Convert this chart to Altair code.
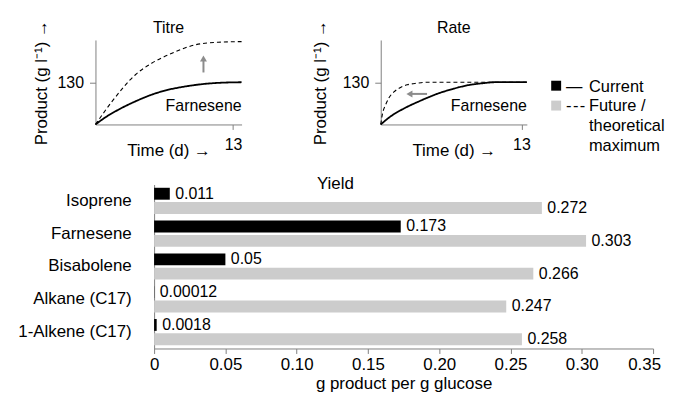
import altair as alt
import pandas as pd

FONT = "Liberation Sans"
FS = 16            # panel texts
FS_AT = 17         # panel axis titles
FS_BAR = 17        # bar chart category / tick labels / axis title
FS_VAL = 16        # bar value labels
FS_LEG = 16.5
AXIS_GREY = "#808080"
BAR_GREY = "#cccccc"
ARROW_GREY = "#8c8c8c"

series_names = ["Current", "Future"]

# ---- Titre panel (time in d, product in g/l) ----
titre_cur_t = [0, 0.94, 2.2, 3.77, 5.34, 6.9, 8.5, 10.05, 11.6, 13.8]
titre_cur_v = [0, 22, 46, 71, 92, 107, 117, 124, 128, 130]
titre_fut_t = [0, 1.57, 3.77, 5.34, 7.22, 9.42, 11.6, 13.8]
titre_fut_v = [0, 71, 153, 189, 219, 245, 253, 255]
titre_arrow_t = [10.2]
titre_arrow_from = [160]
titre_arrow_to = [200]
titre_arrow_head = [203]

# ---- Rate panel ----
rate_cur_t = [0, 0.92, 2.14, 3.67, 5.2, 6.73, 8.26, 9.48, 10.5, 13.5]
rate_cur_v = [0, 25, 49, 73, 94, 110, 122, 127, 130, 130]
rate_fut_t = [0, 0.15, 0.46, 0.76, 1.22, 1.83, 2.45, 3.36, 4.28, 13.5]
rate_fut_v = [0, 31, 61, 82, 100, 114, 122, 127, 130, 130]
rate_arrow_v = [94]
rate_arrow_from = [4.28]
rate_arrow_to = [2.8]
rate_arrow_head = [2.65]

panel_label = "Farnesene"
panel_label_v = 58

# ---- Yield bars ----
products = ["Isoprene", "Farnesene", "Bisabolene", "Alkane (C17)", "1-Alkene (C17)"]
current_yield = [0.011, 0.173, 0.05, 0.00012, 0.0018]
future_yield = [0.272, 0.303, 0.266, 0.247, 0.258]
current_labels = ["0.011", "0.173", "0.05", "0.00012", "0.0018"]
future_labels = ["0.272", "0.303", "0.266", "0.247", "0.258"]
yield_ticks = [0, 0.05, 0.10, 0.15, 0.20, 0.25, 0.30, 0.35]
yield_title_x = 0.1272

# ---- Legend ----
legend_glyphs = ["\u2014", "-\u200a-\u200a-"]
legend_labels = ["Current", "Future /\ntheoretical\nmaximum"]

# layout constants
SP_TOP = 23.3
SP_BOT = 9
G1 = 66
G2 = 20.5
VS = 17.4

axis_style = dict(
    domainColor=AXIS_GREY, tickColor=AXIS_GREY, labelColor="black", titleColor="black",
    labelFont=FONT, titleFont=FONT, titleFontWeight="normal", grid=False, labelFlush=False,
)

color_scale = alt.Scale(domain=series_names, range=["black", BAR_GREY])
dash_scale = alt.Scale(domain=series_names, range=[[1, 0], [4, 3]])
width_scale = alt.Scale(domain=series_names, range=[1.8, 1.1])
Y_DOMAIN = [0, 260]


def line_panel(cur_t, cur_v, fut_t, fut_v, xmax, title, ytitle_pad, arrow):
    df = pd.DataFrame({
        "t": cur_t + fut_t,
        "v": cur_v + fut_v,
        "series": ["Current"] * len(cur_t) + ["Future"] * len(fut_t),
    })
    xs = alt.Scale(domain=[0, xmax], nice=False, zero=False)
    ys = alt.Scale(domain=Y_DOMAIN, nice=False)
    lines = alt.Chart(df).mark_line(color="black", interpolate="monotone").encode(
        x=alt.X("t:Q", scale=xs, axis=alt.Axis(values=[13], title="Time (d) \u2192", tickSize=5,
                                               labelPadding=7, titlePadding=-10, labelFontSize=FS,
                                               titleFontSize=FS_AT, **axis_style)),
        y=alt.Y("v:Q", scale=ys, axis=alt.Axis(values=[130], title="Product (g l\u207b\u00b9) \u2192",
                                               tickSize=6, labelPadding=6, titlePadding=ytitle_pad,
                                               labelFontSize=FS, titleFontSize=FS_AT, **axis_style)),
        strokeDash=alt.StrokeDash("series:N", scale=dash_scale, legend=None),
        strokeWidth=alt.StrokeWidth("series:N", scale=width_scale, legend=None),
        detail="series:N",
    )
    one = pd.DataFrame({"k": [0]})
    lab = alt.Chart(one).mark_text(
        align="right", baseline="middle", font=FONT, fontSize=FS, color="black", text=panel_label
    ).encode(x=alt.datum(xmax, scale=xs), y=alt.datum(panel_label_v, scale=ys))
    ttl = alt.Chart(one).mark_text(
        align="center", baseline="alphabetic", dy=-6.7, font=FONT, fontSize=FS, color="black", text=title
    ).encode(x=alt.datum(xmax / 2), y=alt.datum(Y_DOMAIN[1]))
    layers = [lines, lab, ttl] + arrow(xs, ys)
    return alt.layer(*layers).properties(width=147, height=85)


def titre_arrow(xs, ys):
    d = pd.DataFrame({"t": titre_arrow_t, "v": titre_arrow_from, "v2": titre_arrow_to, "vh": titre_arrow_head})
    shaft = alt.Chart(d).mark_rule(color=ARROW_GREY, strokeWidth=2).encode(
        x=alt.X("t:Q"), y=alt.Y("v:Q"), y2="v2:Q")
    head = alt.Chart(d).mark_point(shape="triangle-up", filled=True, size=49, color=ARROW_GREY, opacity=1).encode(
        x=alt.X("t:Q"), y=alt.Y("vh:Q"))
    return [shaft, head]


def rate_arrow(xs, ys):
    d = pd.DataFrame({"t": rate_arrow_from, "t2": rate_arrow_to, "v": rate_arrow_v, "th": rate_arrow_head})
    shaft = alt.Chart(d).mark_rule(color=ARROW_GREY, strokeWidth=2).encode(
        x=alt.X("t:Q"), x2="t2:Q", y=alt.Y("v:Q"))
    head = alt.Chart(d).mark_point(shape="triangle-left", filled=True, size=49, color=ARROW_GREY, opacity=1).encode(
        x=alt.X("th:Q"), y=alt.Y("v:Q"))
    return [shaft, head]


titre = line_panel(titre_cur_t, titre_cur_v, titre_fut_t, titre_fut_v, 13.8, "Titre", 7, titre_arrow)
rate = line_panel(rate_cur_t, rate_cur_v, rate_fut_t, rate_fut_v, 13.5, "Rate", 13, rate_arrow)

# legend panel
legend_df = pd.DataFrame({"series": series_names, "glyph": legend_glyphs, "label": legend_labels})
ly = alt.Y("series:N", scale=alt.Scale(domain=series_names, range=[46, 66], padding=0), axis=None)
leg_sq = alt.Chart(legend_df).mark_square(size=100, opacity=1).encode(
    y=ly, color=alt.Color("series:N", scale=color_scale, legend=None))
leg_gl = alt.Chart(legend_df).mark_text(align="left", baseline="top", dx=10, dy=-7.1, font=FONT,
                                        fontSize=FS_LEG, color="black").encode(y=ly, text="glyph:N")
leg_lb = alt.Chart(legend_df).mark_text(align="left", baseline="top", dx=33, dy=-7.1, font=FONT,
                                        fontSize=FS_LEG, color="black", lineBreak="\n", lineHeight=20).encode(
    y=ly, text="label:N")
legend = alt.layer(leg_sq, leg_gl, leg_lb).properties(width=10, height=85)

# bar chart
bar_df = pd.DataFrame({
    "product": products * 2,
    "series": ["Current"] * len(products) + ["Future"] * len(products),
    "value": current_yield + future_yield,
    "label": current_labels + future_labels,
})
bx = alt.X("value:Q", scale=alt.Scale(domain=[0, 0.35], nice=False),
           axis=alt.Axis(values=yield_ticks, labelExpr="datum.value == 0 ? '0' : format(datum.value, '.2f')",
                         labelOffset={"condition": {"test": "datum.value > 0.34", "value": -9}, "value": 0},
                         title="g product per g glucose", tickSize=5, labelPadding=3, titlePadding=3.5,
                         labelFontSize=FS_BAR, titleFontSize=FS_BAR, **axis_style))
by = alt.Y("product:N", sort=products, scale=alt.Scale(paddingInner=0.2, paddingOuter=0.1),
           axis=alt.Axis(title=None, ticks=False, tickSize=0, labelPadding=23, labelFontSize=FS_BAR,
                         **axis_style))
boff = alt.YOffset("series:N", sort=series_names, scale=alt.Scale(paddingInner=0.17))
bars = alt.Chart(bar_df).mark_bar().encode(
    x=bx, y=by, yOffset=boff, color=alt.Color("series:N", scale=color_scale, legend=None))
vals = alt.Chart(bar_df).mark_text(align="left", baseline="middle", dx=5.5, font=FONT, fontSize=FS_VAL,
                                   color="black").encode(
    x=alt.X("value:Q"), y=alt.Y("product:N", sort=products), yOffset=alt.YOffset("series:N", sort=series_names),
    text="label:N")
ytitle = alt.Chart(pd.DataFrame({"k": [0]})).mark_text(
    align="center", baseline="alphabetic", dy=-11.5, font=FONT, fontSize=17, color="black", text="Yield"
).encode(x=alt.datum(yield_title_x), y=alt.datum(products[0]))
bar_chart = alt.layer(bars, vals, ytitle).properties(width=502, height=165)

sp_top = alt.Chart(pd.DataFrame({"s": []})).mark_point().properties(width=SP_TOP, height=1)
sp_bot = alt.Chart(pd.DataFrame({"s": []})).mark_point().properties(width=SP_BOT, height=1)

top_panels = alt.hconcat(alt.hconcat(titre, rate, spacing=G1), legend, spacing=G2)
top_row = alt.hconcat(sp_top, top_panels, spacing=0)
bottom_row = alt.hconcat(sp_bot, bar_chart, spacing=0)

chart = alt.vconcat(top_row, bottom_row, spacing=VS).properties(
    padding={"left": 0, "top": 10, "right": 0, "bottom": 0}, background="white"
).configure_view(strokeWidth=0)

chart.save("out.html", embed_options={"renderer": "svg", "actions": False})
